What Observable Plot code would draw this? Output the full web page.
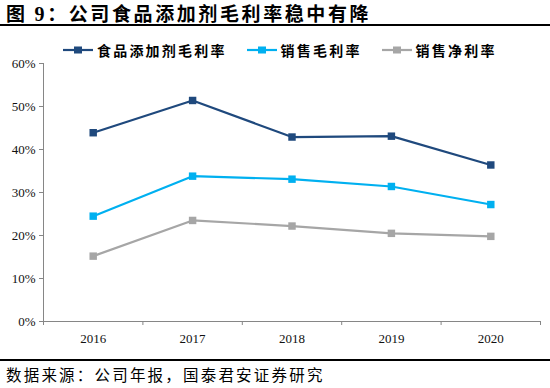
<!DOCTYPE html>
<html><head><meta charset="utf-8">
<script src="https://cdn.jsdelivr.net/npm/d3@7"></script>
<script src="https://cdn.jsdelivr.net/npm/@observablehq/plot@0.6"></script>
<style>
body{margin:0;width:550px;height:388px;background:#fff;font-family:"Noto Sans CJK SC",sans-serif;overflow:hidden;position:relative}
#title{position:absolute;left:0;top:0;width:550px;height:26px;border-bottom:2px solid #000;font-weight:bold;font-size:19px;letter-spacing:2.6px;line-height:26px;padding-left:6px;box-sizing:border-box;color:#000;white-space:nowrap}
#title .num{font-family:"Liberation Serif",serif;font-size:20px}
#legend{position:absolute;top:40px;left:63px;display:flex;align-items:center;font-size:14px;font-weight:bold;color:#000;letter-spacing:2.2px;white-space:nowrap}
#legend .item{display:flex;align-items:center;margin-right:20px}
#legend svg{margin-right:4px}
#chart{position:absolute;left:0;top:55px}
#foot{position:absolute;left:0;top:359px;width:550px;border-top:2px solid #000;font-size:15.5px;letter-spacing:2.2px;line-height:27px;padding-left:6px;box-sizing:border-box;color:#000;white-space:nowrap}
</style></head>
<body>
<div id="title">图 <span class="num">9</span>：公司食品添加剂毛利率稳中有降</div>
<div id="legend"></div>
<div id="chart"></div>
<div id="foot">数据来源：公司年报，国泰君安证券研究</div>
<script>
const years = [2016, 2017, 2018, 2019, 2020];
const seriesNames = ["食品添加剂毛利率", "销售毛利率", "销售净利率"];
const foodAdditiveGross = [0.439, 0.514, 0.429, 0.431, 0.364];
const salesGross = [0.245, 0.338, 0.331, 0.314, 0.272];
const salesNet = [0.152, 0.235, 0.222, 0.205, 0.198];
const colors = ["#1F497D", "#00B0F0", "#A6A6A6"];
const yTicks = [0, 0.1, 0.2, 0.3, 0.4, 0.5, 0.6];

const allValues = [foodAdditiveGross, salesGross, salesNet];
const data = [];
seriesNames.forEach((s, i) => years.forEach((y, j) => data.push({series: s, year: y, value: allValues[i][j]})));
const bounds = [years[0] - 0.5, ...years.map(y => y + 0.5)];

const chart = Plot.plot({
  width: 550, height: 294,
  marginLeft: 43, marginRight: 10, marginTop: 8, marginBottom: 28,
  style: {fontFamily: "'Liberation Serif', serif", fontSize: "13px", color: "#111"},
  x: {domain: [bounds[0], bounds[bounds.length - 1]]},
  y: {domain: [0, 0.6]},
  color: {domain: seriesNames, range: colors},
  marks: [
    Plot.axisY({ticks: yTicks, tickFormat: d3.format(".0%"), tickSize: 4, tickPadding: 4, stroke: "#868686", label: null}),
    Plot.axisX({ticks: bounds, tickFormat: () => "", tickSize: 4, stroke: "#868686", label: null}),
    Plot.axisX({ticks: years, tickFormat: d => String(d), tickSize: 0, tickPadding: 12, label: null}),
    Plot.ruleX([bounds[0]], {stroke: "#868686"}),
    Plot.ruleY([0], {stroke: "#868686"}),
    Plot.line(data, {x: "year", y: "value", z: "series", stroke: "series", strokeWidth: 2.2}),
    Plot.dot(data, {x: "year", y: "value", fill: "series", symbol: "square", r: 4.2, stroke: "none"})
  ]
});
document.getElementById("chart").appendChild(chart);

const legend = document.getElementById("legend");
seriesNames.forEach((s, i) => {
  const item = document.createElement("div");
  item.className = "item";
  item.innerHTML = `<svg width="30" height="10"><line x1="0" x2="30" y1="5" y2="5" stroke="${colors[i]}" stroke-width="2.2"/><rect x="11" y="1.5" width="8" height="7" fill="${colors[i]}"/></svg><span>${s}</span>`;
  legend.appendChild(item);
});
</script>
</body></html>
